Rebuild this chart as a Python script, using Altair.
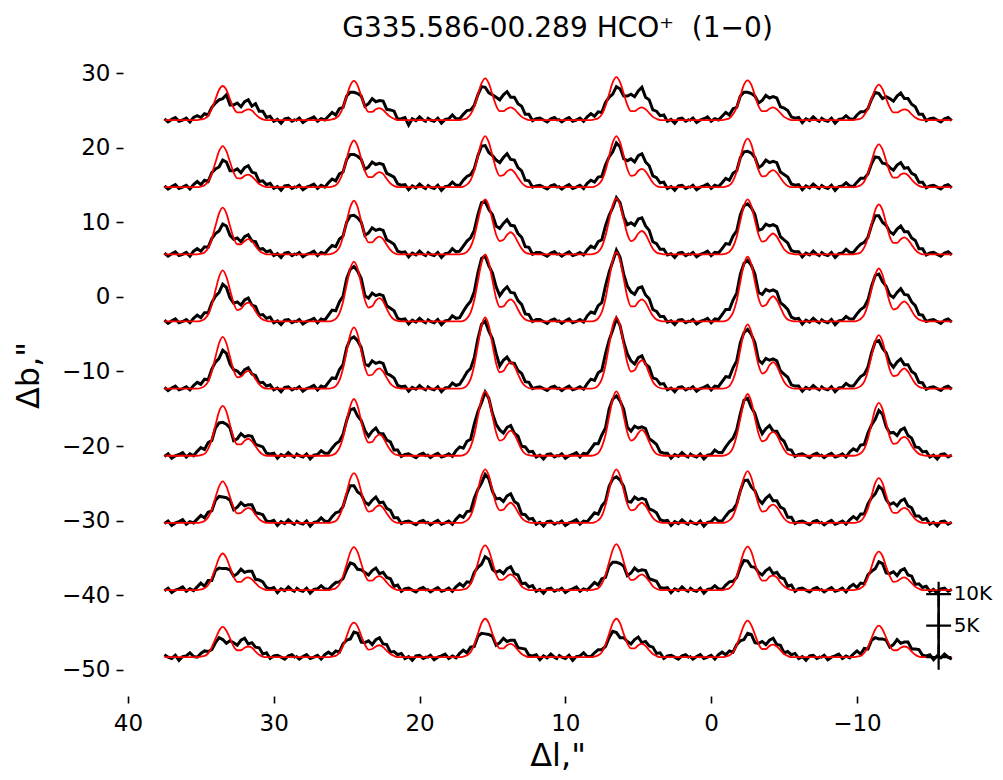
import altair as alt
import pandas as pd

TITLE = "G335.586-00.289 HCO\u207a\u00a0 (1\u22120)"
X_TITLE = 'Δl,"'
Y_TITLE = 'Δb,"'

# Layout of the spectra grid (arcsec offsets)
ROW_BASE = [23.7, 14.7, 5.7, -3.3, -12.3, -21.3, -30.3, -39.3, -48.3]   # Δb of each row baseline
COL_START = [37.5, 28.5, 19.5, 10.5, 1.5, -7.5]                         # Δl of each cell's left edge
CHAN_STEP = 0.25        # Δl per spectral channel
K_SCALE = 0.845         # Δb units per Kelvin
X_TICKS = [40, 30, 20, 10, 0, -10]
Y_TICKS = [30, 20, 10, 0, -10, -20, -30, -40, -50]
SCALE_BAR_X = -15.6
SCALE_BAR_K = [0, 5, 10]
SCALE_BAR_LABELS = ["", "5K", "10K"]

# Observed spectra (K), one string per column, read left to right
obs_row1 = [
    "0.2 -0.3 0.1 0.4 -0.2 0.0 0.3 -0.3 0.4 0.7 0.4 1.0 0.8 2.0 2.7 3.2 3.4 4.0 2.4 2.4 2.7 2.1 2.9 3.2 2.2 2.6 1.4 1.4 0.4 0.6 -0.2 0.1 -0.5 0.2 0.3 -0.2 0.1",
    "-0.1 0.3 -0.4 0.0 0.2 0.5 -0.2 0.2 0.0 0.6 1.2 0.8 1.8 2.0 3.8 4.4 4.4 4.2 3.8 2.2 2.6 3.4 2.9 3.1 3.0 1.7 1.6 1.4 0.1 0.2 0.4 -0.8 0.2 -0.1 0.5 0.0 -0.3",
    "0.4 0.0 -0.2 0.3 -0.5 0.1 0.2 0.8 0.2 0.2 0.9 1.5 1.6 2.3 4.0 5.3 5.2 4.3 4.0 3.6 3.2 4.0 4.5 3.6 3.6 2.6 2.2 0.9 0.9 -0.1 0.2 0.3 0.0 -0.3 0.2 0.4 -0.1",
    "0.2 -0.3 0.1 0.4 -0.2 0.0 0.3 -0.2 0.5 1.0 0.6 1.3 1.2 2.8 3.6 4.1 5.3 4.9 3.8 3.8 4.1 3.7 4.6 5.2 3.6 3.2 1.6 1.4 0.7 0.8 -0.2 0.1 -0.5 0.2 0.3 -0.2 0.1",
    "-0.1 0.3 -0.4 0.0 0.2 0.5 -0.2 0.2 0.0 0.6 1.2 0.8 1.8 2.0 3.8 4.4 4.4 4.2 3.8 2.7 3.1 3.9 3.5 3.7 3.5 2.1 1.9 1.5 0.5 0.3 0.4 -0.4 0.2 -0.1 0.5 0.0 -0.3",
    "0.4 0.0 -0.2 0.3 -0.5 0.1 0.2 0.7 0.2 0.1 0.8 1.3 1.3 1.8 3.3 4.4 4.2 3.4 3.7 3.4 3.0 3.8 4.3 3.4 3.4 2.5 2.1 0.9 0.9 -0.1 0.2 0.3 0.0 -0.3 0.2 0.4 -0.1",
]
obs_row2 = [
    "0.2 -0.3 0.1 0.4 -0.2 0.0 0.3 -0.3 0.4 0.9 0.4 1.1 0.9 2.3 2.9 3.2 4.3 4.0 2.6 2.6 2.9 2.3 3.1 3.4 2.4 2.2 0.9 1.0 0.4 0.6 -0.2 0.1 -0.5 0.2 0.3 -0.2 0.1",
    "-0.1 0.3 -0.4 0.0 0.2 0.5 -0.2 0.3 0.0 0.7 1.3 1.0 2.1 2.4 4.4 5.2 5.2 4.9 4.4 2.8 3.2 4.0 3.6 3.8 3.6 2.2 1.9 1.6 0.5 0.3 0.4 -0.4 0.2 -0.1 0.5 0.0 -0.3",
    "0.4 0.0 -0.2 0.3 -0.5 0.1 0.2 0.8 0.3 0.3 1.1 1.7 2.0 2.9 5.0 6.5 6.6 5.5 5.0 4.3 3.9 4.7 5.3 4.4 4.3 3.1 2.6 1.1 1.0 0.0 0.2 0.3 0.0 -0.3 0.2 0.4 -0.1",
    "0.2 -0.3 0.1 0.4 -0.2 0.0 0.3 -0.2 0.6 1.1 0.8 1.6 1.7 3.5 4.8 5.6 7.0 6.4 4.5 4.2 4.5 4.0 5.0 5.3 4.0 3.4 1.8 1.5 0.7 0.8 -0.2 0.1 -0.5 0.2 0.3 -0.2 0.1",
    "-0.1 0.3 -0.4 0.0 0.2 0.5 -0.2 0.3 0.1 0.7 1.4 1.1 2.2 2.6 4.7 5.6 5.7 5.4 4.7 3.1 3.5 4.3 3.9 4.1 3.9 2.4 2.0 1.6 0.5 0.3 0.4 -0.4 0.2 -0.1 0.5 0.0 -0.3",
    "0.4 0.0 -0.2 0.3 -0.5 0.1 0.2 0.7 0.2 0.1 0.8 1.4 1.4 2.1 3.7 4.8 4.7 3.8 3.7 3.1 2.7 3.5 3.9 3.0 3.1 2.2 1.9 0.8 0.8 -0.1 0.2 0.3 0.0 -0.3 0.2 0.4 -0.1",
]
obs_row3 = [
    "0.2 -0.3 0.1 0.4 -0.2 0.0 0.3 -0.3 0.5 0.9 0.5 1.2 1.1 2.5 3.3 3.7 4.8 4.5 3.0 2.4 2.6 2.0 2.8 3.1 2.1 2.0 0.8 0.9 0.4 0.6 -0.2 0.1 -0.5 0.2 0.3 -0.2 0.1",
    "-0.1 0.3 -0.4 0.0 0.2 0.5 -0.2 0.3 0.1 0.8 1.4 1.2 2.4 2.9 5.1 6.1 6.2 5.8 5.1 3.0 3.4 4.2 3.8 4.0 3.8 2.3 2.0 1.6 0.5 0.3 0.4 -0.4 0.2 -0.1 0.5 0.0 -0.3",
    "0.4 0.0 -0.2 0.3 -0.5 0.1 0.2 0.9 0.4 0.5 1.3 2.1 2.6 3.8 6.3 8.2 8.4 7.1 6.3 4.5 4.1 4.9 5.5 4.6 4.5 3.3 2.7 1.2 1.1 0.0 0.3 0.3 0.0 -0.3 0.2 0.4 -0.1",
    "0.2 -0.3 0.1 0.4 -0.2 0.0 0.3 -0.1 0.7 1.3 1.0 2.0 2.3 4.5 6.2 7.4 9.0 8.2 5.9 4.7 5.0 4.6 5.6 5.8 4.5 3.8 2.0 1.7 0.8 0.8 -0.1 0.1 -0.5 0.2 0.3 -0.2 0.1",
    "-0.1 0.3 -0.4 0.0 0.2 0.5 -0.2 0.3 0.2 0.9 1.7 1.6 2.9 3.7 6.3 7.7 8.0 7.4 6.3 3.8 4.0 4.8 4.5 4.7 4.4 2.8 2.3 1.8 0.6 0.4 0.4 -0.4 0.2 -0.1 0.5 0.0 -0.3",
    "0.4 0.0 -0.2 0.3 -0.5 0.1 0.2 0.8 0.3 0.3 1.0 1.6 1.9 2.7 4.6 6.1 6.1 5.1 4.6 3.6 3.2 4.0 4.5 3.6 3.6 2.6 2.2 0.9 0.9 -0.1 0.2 0.3 0.0 -0.3 0.2 0.4 -0.1",
]
obs_row4 = [
    "0.2 -0.3 0.1 0.4 -0.2 0.0 0.3 -0.2 0.5 1.0 0.6 1.4 1.4 3.0 4.0 4.6 5.9 5.4 3.7 2.9 3.1 2.6 3.4 3.7 2.6 2.4 1.0 1.1 0.5 0.7 -0.2 0.1 -0.5 0.2 0.3 -0.2 0.1",
    "-0.1 0.3 -0.4 0.0 0.2 0.5 -0.2 0.4 0.2 1.0 1.8 1.7 3.1 4.0 6.8 8.3 8.7 8.0 6.8 4.1 3.7 4.5 4.1 4.3 4.1 2.5 2.1 1.7 0.5 0.3 0.4 -0.4 0.2 -0.1 0.5 0.0 -0.3",
    "0.4 0.0 -0.2 0.3 -0.5 0.1 0.2 0.9 0.5 0.6 1.6 2.5 3.2 4.7 7.7 10.0 10.4 8.8 7.7 5.5 4.1 4.9 5.5 4.6 4.5 3.3 2.7 1.2 1.1 0.0 0.3 0.3 0.0 -0.3 0.2 0.4 -0.1",
    "0.2 -0.3 0.1 0.4 -0.2 0.0 0.3 -0.1 0.9 1.5 1.3 2.5 3.0 5.6 7.8 9.5 11.3 10.2 7.5 5.6 4.7 4.3 5.3 5.5 4.2 3.6 1.9 1.6 0.8 0.8 -0.1 0.1 -0.5 0.2 0.3 -0.2 0.1",
    "-0.1 0.3 -0.4 0.0 0.2 0.5 -0.2 0.4 0.3 1.1 1.9 1.9 3.4 4.5 7.5 9.2 9.7 8.9 7.5 4.6 4.3 5.1 4.8 5.0 4.7 3.0 2.5 1.9 0.7 0.4 0.5 -0.4 0.2 -0.1 0.5 0.0 -0.3",
    "0.4 0.0 -0.2 0.3 -0.5 0.1 0.2 0.8 0.4 0.4 1.2 1.9 2.3 3.4 5.6 7.3 7.5 6.3 5.6 4.2 3.8 4.6 5.2 4.3 4.2 3.1 2.5 1.1 1.0 0.0 0.2 0.3 0.0 -0.3 0.2 0.4 -0.1",
]
obs_row5 = [
    "0.2 -0.3 0.1 0.4 -0.2 0.0 0.3 -0.2 0.5 1.0 0.7 1.5 1.4 3.1 4.2 4.8 6.1 5.6 3.9 3.0 2.8 2.2 3.0 3.3 2.3 2.1 0.9 1.0 0.4 0.6 -0.2 0.1 -0.5 0.2 0.3 -0.2 0.1",
    "-0.1 0.3 -0.4 0.0 0.2 0.5 -0.2 0.4 0.2 1.0 1.7 1.6 3.0 3.8 6.5 7.9 8.2 7.6 6.5 3.9 3.6 4.4 4.0 4.2 4.0 2.4 2.1 1.7 0.5 0.3 0.4 -0.4 0.2 -0.1 0.5 0.0 -0.3",
    "0.4 0.0 -0.2 0.3 -0.5 0.1 0.2 0.9 0.5 0.7 1.6 2.6 3.2 4.9 7.9 10.2 10.7 9.1 7.9 5.6 3.6 4.5 5.0 4.1 4.0 2.9 2.4 1.1 1.0 0.0 0.2 0.3 0.0 -0.3 0.2 0.4 -0.1",
    "0.2 -0.3 0.1 0.4 -0.2 0.0 0.3 -0.1 0.8 1.5 1.3 2.5 2.9 5.5 7.7 9.3 11.1 10.0 7.4 5.5 4.4 3.9 4.9 5.2 3.9 3.4 1.7 1.5 0.7 0.8 -0.2 0.1 -0.5 0.2 0.3 -0.2 0.1",
    "-0.1 0.3 -0.4 0.0 0.2 0.5 -0.2 0.4 0.3 1.1 1.9 1.8 3.3 4.4 7.3 8.9 9.4 8.6 7.3 4.5 4.0 4.8 4.5 4.7 4.4 2.8 2.3 1.8 0.6 0.4 0.4 -0.4 0.2 -0.1 0.5 0.0 -0.3",
    "0.4 0.0 -0.2 0.3 -0.5 0.1 0.2 0.8 0.4 0.4 1.2 1.9 2.3 3.4 5.7 7.4 7.6 6.4 5.7 4.1 3.4 4.2 4.7 3.8 3.8 2.7 2.3 1.0 0.9 -0.1 0.2 0.3 0.0 -0.3 0.2 0.4 -0.1",
]
obs_row6 = [
    "-0.1 0.3 -0.4 0.0 0.2 0.5 -0.2 0.3 0.0 0.7 1.3 1.0 2.1 2.4 4.4 5.2 5.3 5.0 4.4 2.4 2.7 3.5 3.0 3.2 3.1 1.8 1.6 1.4 0.4 0.3 0.4 -0.4 0.2 -0.1 0.5 0.0 -0.3",
    "0.4 0.0 -0.2 0.3 -0.5 0.1 0.2 0.8 0.4 0.4 1.2 1.9 2.3 3.4 5.6 7.3 7.5 6.3 5.6 4.0 3.1 3.9 4.4 3.5 3.5 2.5 2.2 0.9 0.9 -0.1 0.2 0.3 0.0 -0.3 0.2 0.4 -0.1",
    "0.2 -0.3 0.1 0.4 -0.2 0.0 0.3 -0.1 0.8 1.4 1.2 2.3 2.6 5.0 7.0 8.4 10.1 9.1 6.7 5.0 4.1 3.6 4.5 4.8 3.6 3.1 1.5 1.4 0.6 0.7 -0.2 0.1 -0.5 0.2 0.3 -0.2 0.1",
    "-0.1 0.3 -0.4 0.0 0.2 0.5 -0.2 0.4 0.3 1.1 1.9 1.9 3.3 4.4 7.4 9.0 9.5 8.7 7.4 4.5 3.9 4.7 4.4 4.6 4.3 2.7 2.3 1.8 0.6 0.4 0.4 -0.4 0.2 -0.1 0.5 0.0 -0.3",
    "0.4 0.0 -0.2 0.3 -0.5 0.1 0.2 0.9 0.5 0.5 1.4 2.2 2.8 4.1 6.7 8.8 9.1 7.7 6.7 4.8 3.5 4.3 4.8 3.9 3.9 2.8 2.3 1.0 0.9 -0.1 0.2 0.3 0.0 -0.3 0.2 0.4 -0.1",
    "0.2 -0.3 0.1 0.4 -0.2 0.0 0.3 -0.2 0.6 1.1 0.8 1.7 1.8 3.6 4.9 5.8 7.2 6.6 4.6 3.6 3.7 3.2 4.1 4.4 3.2 2.8 1.4 1.3 0.6 0.7 -0.2 0.1 -0.5 0.2 0.3 -0.2 0.1",
]
obs_row7 = [
    "-0.1 0.3 -0.4 0.0 0.2 0.5 -0.2 0.2 0.0 0.6 1.2 0.8 1.7 1.9 3.6 4.2 4.1 4.0 3.6 2.1 2.5 3.2 2.7 2.9 2.9 1.6 1.5 1.3 0.3 0.2 0.4 -0.4 0.2 -0.1 0.5 0.0 -0.3",
    "0.4 0.0 -0.2 0.3 -0.5 0.1 0.2 0.8 0.3 0.2 1.0 1.6 1.8 2.6 4.5 5.9 5.9 4.9 4.5 3.3 2.9 3.6 4.1 3.2 3.3 2.3 2.0 0.8 0.8 -0.1 0.2 0.3 0.0 -0.3 0.2 0.4 -0.1",
    "0.2 -0.3 0.1 0.4 -0.2 0.0 0.3 -0.2 0.6 1.2 0.9 1.8 1.9 3.9 5.3 6.3 7.7 7.0 5.0 3.8 3.9 3.4 4.3 4.6 3.4 3.0 1.4 1.3 0.6 0.7 -0.2 0.1 -0.5 0.2 0.3 -0.2 0.1",
    "-0.1 0.3 -0.4 0.0 0.2 0.5 -0.2 0.3 0.2 0.9 1.6 1.4 2.7 3.4 5.8 7.0 7.3 6.8 5.8 3.4 3.3 4.1 3.7 3.9 3.7 2.2 2.0 1.6 0.5 0.3 0.4 -0.4 0.2 -0.1 0.5 0.0 -0.3",
    "0.4 0.0 -0.2 0.3 -0.5 0.1 0.2 0.8 0.3 0.3 1.1 1.8 2.1 3.0 5.1 6.7 6.8 5.7 5.1 3.7 3.1 3.9 4.4 3.5 3.5 2.5 2.2 0.9 0.9 -0.1 0.2 0.3 0.0 -0.3 0.2 0.4 -0.1",
    "0.2 -0.3 0.1 0.4 -0.2 0.0 0.3 -0.2 0.5 1.0 0.6 1.4 1.4 3.0 4.0 4.6 5.8 5.3 3.7 2.9 3.2 2.7 3.5 3.8 2.7 2.4 1.1 1.1 0.5 0.7 -0.2 0.1 -0.5 0.2 0.3 -0.2 0.1",
]
obs_row8 = [
    "-0.1 0.3 -0.4 0.0 0.2 0.5 -0.2 0.2 -0.1 0.5 1.1 0.6 1.5 1.5 3.1 3.5 3.4 3.4 3.2 2.2 2.6 3.3 2.8 3.0 3.0 1.7 1.6 1.3 0.4 0.2 0.4 -0.4 0.2 -0.1 0.5 0.0 -0.3",
    "0.4 0.0 -0.2 0.3 -0.5 0.1 0.2 0.7 0.2 0.1 0.7 1.2 1.3 1.8 3.2 4.3 4.1 3.3 3.2 2.8 2.4 3.1 3.5 2.6 2.8 2.0 1.8 0.6 0.8 -0.2 0.2 0.3 0.0 -0.3 0.2 0.4 -0.1",
    "0.2 -0.3 0.1 0.4 -0.2 0.0 0.3 -0.2 0.5 1.0 0.6 1.3 1.2 2.8 3.6 4.1 5.3 4.9 3.3 2.8 3.1 2.6 3.4 3.7 2.6 2.4 1.0 1.1 0.5 0.7 -0.2 0.1 -0.5 0.2 0.3 -0.2 0.1",
    "-0.1 0.3 -0.4 0.0 0.2 0.5 -0.2 0.2 0.0 0.6 1.2 0.8 1.8 2.0 3.8 4.4 4.4 4.2 3.8 2.3 2.7 3.5 3.0 3.2 3.1 1.8 1.6 1.4 0.4 0.3 0.4 -0.4 0.2 -0.1 0.5 0.0 -0.3",
    "0.4 0.0 -0.2 0.3 -0.5 0.1 0.2 0.7 0.2 0.1 0.8 1.3 1.4 2.0 3.6 4.7 4.6 3.7 3.6 2.8 2.4 3.1 3.5 2.6 2.8 2.0 1.8 0.6 0.8 -0.2 0.2 0.3 0.0 -0.3 0.2 0.4 -0.1",
    "0.2 -0.3 0.1 0.4 -0.2 0.0 0.3 -0.3 0.5 0.9 0.4 1.1 1.0 2.4 3.0 3.4 4.5 4.2 2.7 2.6 2.9 2.3 3.1 3.4 2.4 2.2 0.9 1.0 0.4 0.6 -0.2 0.1 -0.5 0.2 0.3 -0.2 0.1",
]
obs_row9 = [
    "0.4 0.0 -0.2 0.3 -0.5 0.1 0.2 0.7 0.1 0.0 0.6 1.0 0.9 1.2 2.3 3.1 2.8 2.2 2.6 2.3 1.9 2.7 3.0 2.1 2.3 1.6 1.5 0.5 0.7 -0.2 0.2 0.3 0.0 -0.3 0.2 0.4 -0.1",
    "0.2 -0.3 0.1 0.4 -0.2 0.0 0.3 -0.3 0.4 0.8 0.4 1.0 0.8 2.1 2.7 2.9 4.0 3.8 2.4 2.3 2.6 2.0 2.8 3.1 2.1 2.0 0.8 0.9 0.4 0.6 -0.2 0.1 -0.5 0.2 0.3 -0.2 0.1",
    "-0.1 0.3 -0.4 0.0 0.2 0.5 -0.2 0.2 -0.1 0.6 1.1 0.7 1.6 1.7 3.3 3.8 3.7 3.6 3.3 1.9 2.3 3.0 2.5 2.7 2.7 1.5 1.4 1.3 0.3 0.2 0.4 -0.4 0.2 -0.1 0.5 0.0 -0.3",
    "0.4 0.0 -0.2 0.3 -0.5 0.1 0.2 0.7 0.1 0.1 0.7 1.2 1.2 1.7 3.1 4.1 3.9 3.1 3.1 2.5 2.1 2.8 3.2 2.3 2.5 1.8 1.6 0.6 0.7 -0.2 0.2 0.3 0.0 -0.3 0.2 0.4 -0.1",
    "0.2 -0.3 0.1 0.4 -0.2 0.0 0.3 -0.3 0.4 0.8 0.4 1.0 0.8 2.0 2.6 2.8 3.8 3.6 2.3 2.2 2.5 2.0 2.7 3.0 2.0 1.9 0.7 0.9 0.4 0.6 -0.2 0.1 -0.5 0.2 0.3 -0.2 0.1",
    "-0.1 0.3 -0.4 0.0 0.2 0.5 -0.2 0.2 -0.1 0.5 1.0 0.5 1.4 1.3 2.7 3.1 2.9 2.9 2.7 1.6 2.0 2.8 2.2 2.4 2.4 1.3 1.3 1.2 0.3 0.2 0.4 -0.4 0.2 -0.1 0.5 0.0 -0.3",
]

# Model fits (K), same channels
fit_row1 = [
    "0 0 0 0 0 0 0 0 0 0 0.1 0.2 0.7 1.8 3.3 4.8 5.4 4.8 3.3 1.9 1.2 1.2 1.5 1.7 1.5 0.9 0.4 0.1 0 0 0 0 0 0 0 0 0",
    "0 0 0 0 0 0 0 0 0 0 0.1 0.3 0.8 2.0 3.8 5.5 6.2 5.5 3.8 2.2 1.3 1.3 1.7 1.9 1.6 1.0 0.5 0.2 0 0 0 0 0 0 0 0 0",
    "0 0 0 0 0 0 0 0 0 0 0.1 0.3 0.9 2.1 4.0 5.8 6.6 5.8 4.0 2.3 1.4 1.4 1.8 2.0 1.7 1.1 0.5 0.2 0 0 0 0 0 0 0 0 0",
    "0 0 0 0 0 0 0 0 0 0 0.1 0.3 0.9 2.2 4.1 6.0 6.8 6.0 4.2 2.4 1.4 1.4 1.8 2.0 1.7 1.1 0.5 0.2 0 0 0 0 0 0 0 0 0",
    "0 0 0 0 0 0 0 0 0 0 0.1 0.3 0.9 2.0 3.8 5.6 6.3 5.6 3.9 2.2 1.4 1.4 1.8 2.0 1.7 1.1 0.5 0.2 0 0 0 0 0 0 0 0 0",
    "0 0 0 0 0 0 0 0 0 0 0.1 0.2 0.8 1.8 3.4 4.9 5.6 4.9 3.4 2.0 1.2 1.2 1.5 1.7 1.5 0.9 0.4 0.1 0 0 0 0 0 0 0 0 0",
]
fit_row2 = [
    "0 0 0 0 0 0 0 0 0 0 0.1 0.3 0.9 2.1 3.9 5.7 6.5 5.7 4.0 2.3 1.4 1.4 1.8 2.0 1.7 1.1 0.5 0.2 0 0 0 0 0 0 0 0 0",
    "0 0 0 0 0 0 0 0 0 0 0.1 0.3 1.0 2.4 4.5 6.5 7.4 6.5 4.5 2.6 1.6 1.6 2.1 2.4 2.1 1.3 0.6 0.2 0 0 0 0 0 0 0 0 0",
    "0 0 0 0 0 0 0 0 0 0 0.1 0.4 1.1 2.6 4.9 7.1 8.1 7.1 5.0 2.9 1.8 1.9 2.5 2.8 2.4 1.5 0.7 0.2 0 0 0 0 0 0 0 0 0",
    "0 0 0 0 0 0 0 0 0 0 0.1 0.4 1.1 2.6 4.9 7.1 8.1 7.1 5.0 2.9 1.8 1.9 2.6 2.9 2.5 1.6 0.7 0.2 0 0 0 0 0 0 0 0 0",
    "0 0 0 0 0 0 0 0 0 0 0.1 0.3 1.0 2.5 4.7 6.8 7.7 6.8 4.7 2.7 1.7 1.8 2.4 2.7 2.3 1.5 0.7 0.2 0 0 0 0 0 0 0 0 0",
    "0 0 0 0 0 0 0 0 0 0 0.1 0.3 0.9 2.2 4.1 6.0 6.8 6.0 4.2 2.4 1.5 1.5 2.0 2.2 1.9 1.2 0.6 0.2 0 0 0 0 0 0 0 0 0",
]
fit_row3 = [
    "0 0 0 0 0 0 0 0 0 0 0.1 0.3 1.0 2.4 4.5 6.5 7.4 6.5 4.5 2.6 1.6 1.6 2.1 2.4 2.1 1.3 0.6 0.2 0 0 0 0 0 0 0 0 0",
    "0 0 0 0 0 0 0 0 0 0 0.1 0.4 1.1 2.8 5.2 7.5 8.5 7.5 5.2 3.0 1.9 1.9 2.5 2.8 2.4 1.5 0.7 0.2 0 0 0 0 0 0 0 0 0",
    "0 0 0 0 0 0 0 0 0 0 0.1 0.4 1.2 2.8 5.3 7.7 8.7 7.7 5.4 3.1 2.1 2.3 3.1 3.5 3.0 1.9 0.9 0.3 0.1 0 0 0 0 0 0 0 0",
    "0 0 0 0 0 0 0 0 0 0 0.1 0.4 1.2 2.9 5.4 7.8 8.9 7.8 5.5 3.2 2.1 2.4 3.3 3.7 3.2 2.0 0.9 0.3 0.1 0 0 0 0 0 0 0 0",
    "0 0 0 0 0 0 0 0 0 0 0.1 0.4 1.2 2.8 5.3 7.7 8.7 7.7 5.4 3.1 2.0 2.2 2.9 3.3 2.8 1.8 0.8 0.3 0.1 0 0 0 0 0 0 0 0",
    "0 0 0 0 0 0 0 0 0 0 0.1 0.3 1.1 2.6 4.8 7.0 7.9 7.0 4.9 2.8 1.8 1.8 2.4 2.7 2.3 1.5 0.7 0.2 0 0 0 0 0 0 0 0 0",
]
fit_row4 = [
    "0 0 0 0 0 0 0 0 0 0 0.1 0.4 1.1 2.6 4.9 7.1 8.1 7.1 5.0 2.9 1.8 2.0 2.7 3.0 2.6 1.6 0.8 0.3 0.1 0 0 0 0 0 0 0 0",
    "0 0 0 0 0 0 0 0 0 0 0.1 0.4 1.3 3.1 5.8 8.4 9.5 8.4 5.9 3.4 2.2 2.4 3.3 3.7 3.2 2.0 0.9 0.3 0.1 0 0 0 0 0 0 0 0",
    "0 0 0 0 0 0 0 0 0 0 0.1 0.5 1.4 3.4 6.4 9.3 10.6 9.3 6.5 3.7 2.3 2.4 3.1 3.5 3.0 1.9 0.9 0.3 0.1 0 0 0 0 0 0 0 0",
    "0 0 0 0 0 0 0 0 0 0 0.1 0.5 1.5 3.6 6.7 9.7 11.0 9.7 6.8 3.9 2.4 2.4 3.1 3.5 3.0 1.9 0.9 0.3 0.1 0 0 0 0 0 0 0 0",
    "0 0 0 0 0 0 0 0 0 0 0.1 0.5 1.4 3.3 6.3 9.1 10.3 9.1 6.3 3.7 2.4 2.6 3.5 4.0 3.4 2.2 1.0 0.3 0.1 0 0 0 0 0 0 0 0",
    "0 0 0 0 0 0 0 0 0 0 0.1 0.4 1.1 2.7 5.1 7.4 8.4 7.4 5.2 3.0 1.9 2.1 2.8 3.2 2.7 1.7 0.8 0.3 0.1 0 0 0 0 0 0 0 0",
]
fit_row5 = [
    "0 0 0 0 0 0 0 0 0 0 0.1 0.4 1.1 2.7 5.0 7.2 8.2 7.2 5.0 2.9 1.8 1.9 2.5 2.8 2.4 1.5 0.7 0.2 0 0 0 0 0 0 0 0 0",
    "0 0 0 0 0 0 0 0 0 0 0.1 0.4 1.3 3.2 5.9 8.6 9.7 8.6 6.0 3.4 2.1 2.2 2.9 3.2 2.7 1.7 0.8 0.3 0.1 0 0 0 0 0 0 0 0",
    "0 0 0 0 0 0 0 0 0 0 0.1 0.5 1.5 3.7 6.9 10.0 11.3 10.0 7.0 4.0 2.6 2.8 3.7 4.2 3.6 2.3 1.1 0.4 0.1 0 0 0 0 0 0 0 0",
    "0 0 0 0 0 0 0 0 0 0 0.1 0.5 1.5 3.7 6.9 10.0 11.3 10.0 7.0 4.1 2.7 2.9 4.0 4.5 3.9 2.4 1.1 0.4 0.1 0 0 0 0 0 0 0 0",
    "0 0 0 0 0 0 0 0 0 0 0.1 0.4 1.4 3.3 6.2 9.0 10.2 9.0 6.3 3.7 2.4 2.7 3.7 4.2 3.6 2.3 1.1 0.4 0.1 0 0 0 0 0 0 0 0",
    "0 0 0 0 0 0 0 0 0 0 0.1 0.4 1.1 2.8 5.2 7.5 8.5 7.5 5.2 3.0 2.0 2.1 2.8 3.2 2.7 1.7 0.8 0.3 0.1 0 0 0 0 0 0 0 0",
]
fit_row6 = [
    "0 0 0 0 0 0 0 0 0 0 0.1 0.3 1.1 2.6 4.8 7.0 7.9 7.0 4.9 2.8 1.8 1.8 2.4 2.7 2.3 1.5 0.7 0.2 0 0 0 0 0 0 0 0 0",
    "0 0 0 0 0 0 0 0 0 0 0.1 0.4 1.2 2.9 5.5 7.9 9.0 7.9 5.5 3.2 2.1 2.2 3.0 3.4 2.9 1.8 0.9 0.3 0.1 0 0 0 0 0 0 0 0",
    "0 0 0 0 0 0 0 0 0 0 0.1 0.4 1.4 3.3 6.2 9.0 10.2 9.0 6.3 3.7 2.4 2.6 3.5 4.0 3.4 2.2 1.0 0.3 0.1 0 0 0 0 0 0 0 0",
    "0 0 0 0 0 0 0 0 0 0 0.1 0.4 1.4 3.3 6.2 9.0 10.2 9.0 6.3 3.7 2.4 2.7 3.6 4.1 3.5 2.2 1.0 0.3 0.1 0 0 0 0 0 0 0 0",
    "0 0 0 0 0 0 0 0 0 0 0.1 0.4 1.3 3.2 5.9 8.6 9.8 8.6 6.0 3.5 2.3 2.5 3.4 3.8 3.3 2.1 1.0 0.3 0.1 0 0 0 0 0 0 0 0",
    "0 0 0 0 0 0 0 0 0 0 0.1 0.4 1.1 2.7 5.1 7.4 8.4 7.4 5.2 3.0 1.9 2.0 2.7 3.0 2.6 1.6 0.8 0.3 0.1 0 0 0 0 0 0 0 0",
]
fit_row7 = [
    "0 0 0 0 0 0 0 0 0 0 0.1 0.3 0.9 2.1 4.0 5.8 6.6 5.8 4.1 2.4 1.5 1.6 2.1 2.4 2.1 1.3 0.6 0.2 0 0 0 0 0 0 0 0 0",
    "0 0 0 0 0 0 0 0 0 0 0.1 0.3 1.1 2.6 4.8 7.0 7.9 7.0 4.9 2.8 1.8 1.9 2.5 2.8 2.4 1.5 0.7 0.2 0 0 0 0 0 0 0 0 0",
    "0 0 0 0 0 0 0 0 0 0 0.1 0.4 1.1 2.8 5.2 7.5 8.5 7.5 5.2 3.0 2.0 2.1 2.8 3.2 2.7 1.7 0.8 0.3 0.1 0 0 0 0 0 0 0 0",
    "0 0 0 0 0 0 0 0 0 0 0.1 0.4 1.1 2.8 5.2 7.5 8.5 7.5 5.2 3.0 2.0 2.1 2.8 3.2 2.7 1.7 0.8 0.3 0.1 0 0 0 0 0 0 0 0",
    "0 0 0 0 0 0 0 0 0 0 0.1 0.4 1.1 2.7 5.0 7.2 8.2 7.2 5.0 2.9 1.8 1.9 2.6 2.9 2.5 1.6 0.7 0.2 0 0 0 0 0 0 0 0 0",
    "0 0 0 0 0 0 0 0 0 0 0.1 0.3 1.0 2.3 4.3 6.3 7.1 6.3 4.4 2.5 1.6 1.6 2.1 2.4 2.1 1.3 0.6 0.2 0 0 0 0 0 0 0 0 0",
]
fit_row8 = [
    "0 0 0 0 0 0 0 0 0 0 0.1 0.3 0.8 1.9 3.5 5.1 5.8 5.1 3.6 2.1 1.3 1.3 1.8 2.0 1.7 1.1 0.5 0.2 0 0 0 0 0 0 0 0 0",
    "0 0 0 0 0 0 0 0 0 0 0.1 0.3 0.9 2.2 4.1 6.0 6.8 6.0 4.2 2.4 1.5 1.5 2.0 2.2 1.9 1.2 0.6 0.2 0 0 0 0 0 0 0 0 0",
    "0 0 0 0 0 0 0 0 0 0 0.1 0.3 1.0 2.3 4.3 6.3 7.1 6.3 4.4 2.5 1.6 1.7 2.2 2.5 2.1 1.4 0.6 0.2 0 0 0 0 0 0 0 0 0",
    "0 0 0 0 0 0 0 0 0 0 0.1 0.3 1.0 2.4 4.4 6.4 7.3 6.4 4.5 2.6 1.6 1.7 2.2 2.5 2.1 1.4 0.6 0.2 0 0 0 0 0 0 0 0 0",
    "0 0 0 0 0 0 0 0 0 0 0.1 0.3 0.9 2.2 4.2 6.1 6.9 6.1 4.2 2.4 1.5 1.5 2.1 2.3 2.0 1.2 0.6 0.2 0 0 0 0 0 0 0 0 0",
    "0 0 0 0 0 0 0 0 0 0 0.1 0.3 0.8 2.0 3.7 5.4 6.1 5.4 3.7 2.2 1.3 1.4 1.8 2.0 1.7 1.1 0.5 0.2 0 0 0 0 0 0 0 0 0",
]
fit_row9 = [
    "0 0 0 0 0 0 0 0 0 0 0.1 0.2 0.6 1.6 2.9 4.2 4.8 4.2 3.0 1.7 1.1 1.1 1.5 1.7 1.5 0.9 0.4 0.1 0 0 0 0 0 0 0 0 0",
    "0 0 0 0 0 0 0 0 0 0 0.1 0.2 0.7 1.8 3.3 4.9 5.5 4.9 3.4 2.0 1.2 1.3 1.7 1.9 1.6 1.0 0.5 0.2 0 0 0 0 0 0 0 0 0",
    "0 0 0 0 0 0 0 0 0 0 0.1 0.3 0.8 2.0 3.7 5.4 6.1 5.4 3.7 2.2 1.4 1.4 1.9 2.1 1.8 1.1 0.5 0.2 0 0 0 0 0 0 0 0 0",
    "0 0 0 0 0 0 0 0 0 0 0.1 0.3 0.8 2.0 3.7 5.4 6.1 5.4 3.7 2.2 1.4 1.4 1.9 2.1 1.8 1.1 0.5 0.2 0 0 0 0 0 0 0 0 0",
    "0 0 0 0 0 0 0 0 0 0 0.1 0.3 0.8 1.9 3.5 5.1 5.8 5.1 3.6 2.1 1.3 1.3 1.8 2.0 1.7 1.1 0.5 0.2 0 0 0 0 0 0 0 0 0",
    "0 0 0 0 0 0 0 0 0 0 0.1 0.2 0.7 1.6 3.0 4.4 5.0 4.4 3.1 1.8 1.1 1.1 1.5 1.7 1.5 0.9 0.4 0.1 0 0 0 0 0 0 0 0 0",
]

OBS_ROWS = [obs_row1, obs_row2, obs_row3, obs_row4, obs_row5, obs_row6, obs_row7, obs_row8, obs_row9]
FIT_ROWS = [fit_row1, fit_row2, fit_row3, fit_row4, fit_row5, fit_row6, fit_row7, fit_row8, fit_row9]


def build(rows_list, kind):
    recs = []
    for r, row in enumerate(rows_list):
        for c, s in enumerate(row):
            for i, v in enumerate(s.split()):
                recs.append({
                    "spec": f"{kind}-{r}-{c}",
                    "dl": COL_START[c] - i * CHAN_STEP,
                    "db": ROW_BASE[r] + float(v) * K_SCALE,
                })
    return pd.DataFrame(recs)


df_obs = build(OBS_ROWS, "obs")
df_fit = build(FIT_ROWS, "fit")

bar_base = ROW_BASE[-1]
df_bar_pts = pd.DataFrame({
    "dl": [SCALE_BAR_X] * len(SCALE_BAR_K),
    "db": [bar_base + k * K_SCALE for k in SCALE_BAR_K],
    "label": SCALE_BAR_LABELS,
})
df_bar_line = pd.DataFrame({
    "dl": [SCALE_BAR_X],
    "db": [bar_base + SCALE_BAR_K[0] * K_SCALE],
    "db2": [bar_base + SCALE_BAR_K[-1] * K_SCALE],
})

x_enc = alt.X(
    "dl:Q",
    scale=alt.Scale(domain=[-19.26, 40.34], reverse=True, nice=False, zero=False),
    axis=alt.Axis(values=X_TICKS, title=X_TITLE, labelPadding=9, titlePadding=5),
)
y_enc = alt.Y(
    "db:Q",
    scale=alt.Scale(domain=[-53.5, 32.55], nice=False, zero=False),
    axis=alt.Axis(values=Y_TICKS, title=Y_TITLE, labelPadding=6, titlePadding=16),
)

obs = alt.Chart(df_obs).mark_line(
    color="black", strokeWidth=3, interpolate="linear", strokeJoin="miter"
).encode(x=x_enc, y=y_enc, detail="spec:N")

fit = alt.Chart(df_fit).mark_line(
    color="red", strokeWidth=1.8, interpolate="monotone"
).encode(x="dl:Q", y="db:Q", detail="spec:N")

bar_line = alt.Chart(df_bar_line).mark_rule(color="black", strokeWidth=2.6).encode(
    x="dl:Q", y="db:Q", y2="db2:Q"
)
bar_pts = alt.Chart(df_bar_pts).mark_point(
    shape="M-1,0L1,0M0,-1L0,1", size=620, filled=False, color="black",
    strokeWidth=2.2, opacity=1,
).encode(x="dl:Q", y="db:Q")
bar_txt = alt.Chart(df_bar_pts).mark_text(
    align="left", baseline="middle", dx=15, fontSize=20, font="DejaVu Sans", color="black"
).encode(x="dl:Q", y="db:Q", text="label:N")

chart = alt.layer(obs, fit, bar_line, bar_pts, bar_txt).properties(
    width=869,
    height=642,
    autosize=alt.AutoSizeParams(type="none"),
    padding={"left": 115, "top": 46, "right": 3, "bottom": 82},
    title=alt.TitleParams(
        TITLE, fontSize=28, font="DejaVu Sans", fontWeight="normal",
        anchor="middle", frame="group", offset=11, color="black",
    ),
).configure_view(stroke=None).configure_axis(
    domain=False, grid=False, tickColor="black", tickSize=7, tickWidth=1.6,
    labelColor="black", titleColor="black", labelFont="DejaVu Sans",
    titleFont="DejaVu Sans", labelFontSize=23, titleFontSize=32,
    titleFontWeight="normal",
)

chart.save("out.html", embed_options={"renderer": "svg", "actions": False})
